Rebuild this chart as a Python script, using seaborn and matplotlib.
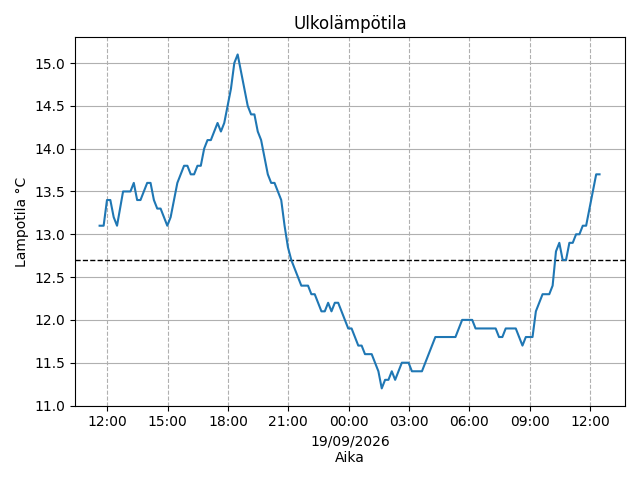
import matplotlib
matplotlib.use("Agg")
import matplotlib.pyplot as plt
import matplotlib.dates as mdates
import seaborn as sns
import pandas as pd

minutes = [-23,-11,-1,9,19,29,47,69,79,89,99,119,129,139,149,159,179,189,209,229,239,249,259,269,279,289,299,309,329,339,349,359,369,379,389,399,409,419,429,439,449,459,469,479,489,499,519,529,539,549,579,599,609,619,639,649,659,669,679,689,719,729,749,759,769,789,809,819,829,839,849,859,879,899,909,939,979,1039,1059,1089,1099,1159,1169,1179,1189,1219,1239,1249,1269,1279,1299,1319,1329,1339,1349,1359,1369,1379,1389,1399,1409,1419,1429,1459,1469]
temps = [13.1,13.1,13.4,13.4,13.2,13.1,13.5,13.5,13.6,13.4,13.4,13.6,13.6,13.4,13.3,13.3,13.1,13.2,13.6,13.8,13.8,13.7,13.7,13.8,13.8,14.0,14.1,14.1,14.3,14.2,14.3,14.5,14.7,15.0,15.1,14.9,14.7,14.5,14.4,14.4,14.2,14.1,13.9,13.7,13.6,13.6,13.4,13.1,12.85,12.7,12.4,12.4,12.3,12.3,12.1,12.1,12.2,12.1,12.2,12.2,11.9,11.9,11.7,11.7,11.6,11.6,11.4,11.2,11.3,11.3,11.4,11.3,11.5,11.5,11.4,11.4,11.8,11.8,12.0,12.0,11.9,11.9,11.8,11.8,11.9,11.9,11.7,11.8,11.8,12.1,12.3,12.3,12.4,12.8,12.9,12.7,12.7,12.9,12.9,13.0,13.0,13.1,13.1,13.7,13.7]
threshold = 12.7

base = pd.Timestamp("2026-09-18 12:00")
df = pd.DataFrame({"t": [base + pd.Timedelta(minutes=m) for m in minutes], "v": temps})

fig, ax = plt.subplots(figsize=(6.4, 4.8), dpi=100)
sns.lineplot(data=df, x="t", y="v", ax=ax, color="#1f77b4", zorder=3)
ax.axhline(threshold, color="black", linestyle="--", linewidth=1, zorder=2)
ax.set_xlim(base + pd.Timedelta(minutes=-96), base + pd.Timedelta(minutes=1545))
ax.set_ylim(11.0, 15.3)
ax.xaxis.set_major_locator(mdates.HourLocator(byhour=[0,3,6,9,12,15,18,21]))
ax.xaxis.set_major_formatter(mdates.DateFormatter("%H:%M"))
ax.yaxis.grid(True, color="#b0b0b0", linestyle="-")
ax.xaxis.grid(True, color="#b0b0b0", linestyle="--")
ax.set_title("Ulkolämpötila")
ax.set_ylabel("Lampotila °C")
ax.set_xlabel("19/09/2026\nAika")
fig.tight_layout()
fig.savefig("out.png")
